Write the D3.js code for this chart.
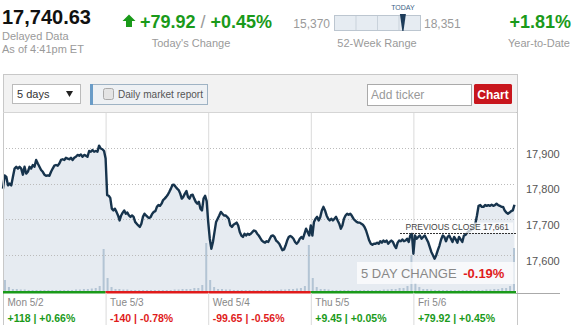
<!DOCTYPE html>
<html><head><meta charset="utf-8">
<script src="https://cdn.jsdelivr.net/npm/d3@7/dist/d3.min.js"></script>
<style>
html,body{margin:0;padding:0;background:#fff;}
svg{display:block;font-family:"Liberation Sans",Arial,sans-serif;}
</style></head>
<body><svg id="c" width="575" height="327"></svg>
<script>
// ---------- data ----------
const lastPrice = "17,740.63";
const todayChange = "+79.92";
const todayPct = "+0.45%";
const ytd = "+1.81%";
const rangeLow = 15370, rangeHigh = 18351, rangeNow = 17740.63;
const prevClose = 17661;
const fiveDayChange = "-0.19%";

const dayNames = ["Mon 5/2","Tue 5/3","Wed 5/4","Thu 5/5","Fri 5/6"];
const dayChange = ["+118","-140","-99.65","+9.45","+79.92"];
const dayPct = ["+0.66%","-0.78%","-0.56%","+0.05%","+0.45%"];
const dayUp = [true,false,false,true,true];
const yTicks = [17600,17700,17800,17900];

const mon = [17786,17823,17819,17795,17800,17795,17819,17842,17847,17842,17847,17842,17825,17847,17828,17833,17847,17842,17852,17847,17866,17856,17847,17838,17833,17825,17822,17823,17822,17833,17842,17850,17852,17850,17856,17866,17868,17866,17872,17870,17868,17872,17866,17872,17875,17880,17878,17881,17875,17880,17878,17875,17891,17889,17894,17889,17891,17889,17906,17898,17896,17891];
const tue = [17870,17768,17766,17760,17730,17725,17730,17721,17711,17697,17711,17719,17725,17716,17719,17711,17707,17711,17707,17693,17688,17683,17679,17688,17707,17716,17711,17707,17704,17707,17716,17721,17723,17735,17740,17738,17744,17754,17758,17763,17769,17777,17786,17796,17797,17791,17786,17782,17772,17758,17763,17772,17779,17763,17758,17768,17769,17758,17749,17744,17749,17730,17725,17758,17766,17751];
const wed = [17693,17646,17618,17637,17665,17693,17702,17711,17721,17716,17711,17711,17707,17702,17683,17679,17685,17688,17691,17683,17665,17655,17651,17660,17655,17660,17657,17660,17665,17669,17667,17660,17655,17648,17641,17637,17635,17639,17637,17646,17654,17655,17651,17641,17637,17632,17623,17614,17616,17627,17641,17651,17654,17651,17646,17637,17632,17637,17646,17651,17646,17660,17674,17665,17655];
const thu = [17683,17655,17693,17702,17707,17697,17707,17725,17735,17725,17711,17702,17697,17702,17697,17702,17707,17697,17688,17674,17683,17702,17711,17716,17713,17716,17710,17702,17697,17693,17691,17691,17688,17685,17679,17669,17655,17641,17632,17629,17632,17632,17635,17632,17639,17635,17641,17637,17641,17632,17637,17641,17637,17627,17620,17635,17641,17639,17644,17639,17641,17646,17637,17655,17661];
const fri = [17604,17655,17646,17651,17655,17646,17651,17655,17646,17637,17623,17609,17600,17590,17600,17614,17627,17644,17655,17651,17639,17651,17655,17646,17637,17651,17644,17635,17651,17644,17637,17655,17657,17663,17667,17669,17674,17679,17688,17711,17738,17740,17735,17735,17740,17738,17740,17738,17741,17738,17740,17744,17740,17738,17735,17735,17725,17719,17716,17719,17723,17725,17741];

const volMon = [11,4,2,2,1.5,1.5,1,1,1,1,1,1,1,1,1,1,1,1,1.5,1.5,2,2,2.5,3,5,42];
const volTue = [13,4,2,2,1.5,1.5,1,1,1,1,1,1,1,1,1,1,1,1.5,1.5,2,2,2,3,3,6,48];
const volWed = [11,4,2,2,1.5,1.5,1,1,1,1,1,1,1,1,1,1,1,1,1.5,1.5,2,2,2.5,3,5,46];
const volThu = [13,4,2,2,1.5,1,1,1,1,1,1,1,1,1,1,1,1,1,1.5,1.5,2,2,3,3,5,36];
const volFri = [8,4,2,2,1.5,1,1,1,1,1,1,1,1,1,1,1,1,1,1.5,1.5,2,2,3,3,5,43];

// ---------- build ----------
const days = [mon,tue,wed,thu,fri];
const vols = [volMon,volTue,volWed,volThu,volFri];
const pts = [];
days.forEach((arr,d)=>arr.forEach((v,i)=>pts.push({t:d+i/(arr.length-1)*0.985,v})));
const vpts = [];
vols.forEach((arr,d)=>arr.forEach((v,i)=>vpts.push({t:d+(i+0.5)/arr.length,v})));

const svg = d3.select("#c");
const GREEN="#1a9a1a", RED="#e01b1b", GREY="#9a9a9a";
const L=3, R=516, T=112, B=291;
const x = d3.scaleLinear().domain([0,5]).range([L,R]);
const y = d3.scaleLinear().domain([17500,18000]).range([B,T]);
const yv = d3.scaleLinear().domain([0,60]).range([B,B-60]);

// ---------- header ----------
svg.append("text").attr("x",2).attr("y",24).attr("font-size",20).attr("font-weight","bold").attr("fill","#111").text(lastPrice);
svg.append("text").attr("x",2).attr("y",40).attr("font-size",11).attr("fill",GREY).text("Delayed Data");
svg.append("text").attr("x",2).attr("y",53).attr("font-size",11).attr("fill",GREY).text("As of 4:41pm ET");

svg.append("path").attr("d","M129,14.5 L135.5,21 L132,21 L132,27 L126,27 L126,21 L122.5,21 Z").attr("fill",GREEN);
const tc = svg.append("text").attr("x",140).attr("y",28).attr("font-size",18).attr("font-weight","bold");
tc.append("tspan").attr("fill",GREEN).text(todayChange);
tc.append("tspan").attr("fill",GREY).attr("font-weight","normal").text(" / ");
tc.append("tspan").attr("fill",GREEN).text(todayPct);
svg.append("text").attr("x",191).attr("y",47).attr("text-anchor","middle").attr("font-size",11).attr("fill",GREY).text("Today's Change");

// 52 week range
const rx = d3.scaleLinear().domain([rangeLow,rangeHigh]).range([334.5,420.5]);
svg.append("rect").attr("x",334.5).attr("y",15.5).attr("width",86).attr("height",15).attr("fill","#e6ecf2").attr("stroke","#bcc6d0");
[0.25,0.5,0.75].forEach(f=>svg.append("line").attr("x1",334.5+86*f).attr("x2",334.5+86*f).attr("y1",16).attr("y2",30).attr("stroke","#c9d2db"));
const mx = rx(rangeNow);
svg.append("path").attr("d",`M${mx-3},14 L${mx+3},14 L${mx+0.6},31 L${mx-0.6},31 Z`).attr("fill","#1d3c5a");
svg.append("text").attr("x",mx).attr("y",10).attr("text-anchor","middle").attr("font-size",7).attr("fill","#3b5f86").text("TODAY");
svg.append("text").attr("x",330).attr("y",28).attr("text-anchor","end").attr("font-size",12).attr("fill",GREY).text(d3.format(",")(rangeLow));
svg.append("text").attr("x",424).attr("y",28).attr("font-size",12).attr("fill",GREY).text(d3.format(",")(rangeHigh));
svg.append("text").attr("x",377).attr("y",47).attr("text-anchor","middle").attr("font-size",11).attr("fill",GREY).text("52-Week Range");

svg.append("text").attr("x",571).attr("y",28).attr("text-anchor","end").attr("font-size",18).attr("font-weight","bold").attr("fill",GREEN).text(ytd);
svg.append("text").attr("x",570).attr("y",47).attr("text-anchor","end").attr("font-size",11).attr("fill",GREY).text("Year-to-Date");

// ---------- toolbar ----------
svg.append("rect").attr("x",3.5).attr("y",74.5).attr("width",514).attr("height",38).attr("fill","#f2f2f2").attr("stroke","#c8c8c8");
svg.append("rect").attr("x",12.5).attr("y",84.5).attr("width",68).attr("height",19).attr("fill","#fff").attr("stroke","#bbb");
svg.append("text").attr("x",17).attr("y",98).attr("font-size",11).attr("fill","#333").text("5 days");
svg.append("path").attr("d","M66,91 L73,91 L69.5,97 Z").attr("fill","#222");
svg.append("rect").attr("x",90.5).attr("y",84.5).attr("width",117).attr("height",20).attr("fill","#eef1f4").attr("stroke","#9fb3c4");
svg.append("rect").attr("x",90).attr("y",84).attr("width",3).attr("height",21).attr("fill","#6a9cc7");
svg.append("rect").attr("x",103.5).attr("y",88.5).attr("width",10).attr("height",11).attr("rx",2).attr("fill","#e4e4e4").attr("stroke","#aaa");
svg.append("text").attr("x",118).attr("y",98).attr("font-size",10.5).attr("textLength",85).attr("lengthAdjust","spacingAndGlyphs").attr("fill","#555").text("Daily market report");
svg.append("rect").attr("x",367.5).attr("y",84.5).attr("width",104).attr("height",21).attr("fill","#fff").attr("stroke","#aaa");
svg.append("text").attr("x",371).attr("y",99).attr("font-size",12).attr("fill","#999").text("Add ticker");
svg.append("rect").attr("x",474).attr("y",84).attr("width",38).attr("height",20).attr("rx",1.5).attr("fill","#c8161d");
svg.append("text").attr("x",493).attr("y",98.5).attr("text-anchor","middle").attr("font-size",12).attr("font-weight","bold").attr("fill","#fff").text("Chart");

// ---------- plot ----------
svg.append("rect").attr("x",L).attr("y",T).attr("width",R-L).attr("height",B-T+1).attr("fill","#fff");
// day dividers
d3.range(1,5).forEach(d=>svg.append("line").attr("x1",x(d)+0.5).attr("x2",x(d)+0.5).attr("y1",T).attr("y2",B).attr("stroke","#dadada"));
// area
svg.append("path").datum(pts).attr("fill","#e6ebf1")
  .attr("d",d3.area().x(d=>x(d.t)).y0(B).y1(d=>y(d.v)));
// volume
svg.append("g").selectAll("rect").data(vpts).join("rect")
  .attr("x",d=>x(d.t)-1).attr("width",2).attr("y",d=>yv(d.v)).attr("height",d=>B-yv(d.v))
  .attr("fill","#b3c4d4");
// grid
yTicks.forEach(t=>{
  svg.append("line").attr("x1",L).attr("x2",R).attr("y1",Math.round(y(t))+0.5).attr("y2",Math.round(y(t))+0.5)
    .attr("stroke","#bbb").attr("stroke-dasharray","1,2");
});
// line
svg.append("path").datum(pts).attr("fill","none").attr("stroke","#17344d").attr("stroke-width",2.4).attr("stroke-linejoin","round")
  .attr("d",d3.line().x(d=>x(d.t)).y(d=>y(d.v)));
// y axis
const ya = svg.append("g").attr("transform",`translate(${R},0)`)
  .call(d3.axisRight(y).tickValues(yTicks).tickSize(0).tickPadding(10).tickFormat(d3.format(",")));
ya.select(".domain").remove();
ya.selectAll("text").attr("font-size",11).attr("fill","#555").attr("font-family","Liberation Sans, Arial, sans-serif").attr("dy","0.85em");

// borders
svg.append("line").attr("x1",L+0.5).attr("x2",L+0.5).attr("y1",T).attr("y2",325).attr("stroke","#c8c8c8");
svg.append("line").attr("x1",R+1.5).attr("x2",R+1.5).attr("y1",T).attr("y2",325).attr("stroke","#c8c8c8");
svg.append("line").attr("x1",L).attr("x2",R).attr("y1",T+0.5).attr("y2",T+0.5).attr("stroke","#d5d5d5");
svg.append("line").attr("x1",R).attr("x2",560).attr("y1",B+2.5).attr("y2",B+2.5).attr("stroke","#aaa");

// previous close
const pcy = Math.round(y(prevClose))+0.5;
svg.append("rect").attr("x",398).attr("y",pcy-11).attr("width",115).attr("height",10.5).attr("fill","#fff").attr("opacity",0.75);
svg.append("line").attr("x1",400).attr("x2",R).attr("y1",pcy).attr("y2",pcy).attr("stroke","#333").attr("stroke-dasharray","2,1");
svg.append("text").attr("x",509).attr("y",pcy-3.5).attr("text-anchor","end").attr("font-size",8.5).attr("fill","#444").text("PREVIOUS CLOSE " + d3.format(",")(prevClose));

// 5 day change
svg.append("rect").attr("x",357).attr("y",262).attr("width",158).attr("height",22).attr("fill","#fff").attr("opacity",0.7);
const fd = svg.append("text").attr("x",361).attr("y",277.5).attr("font-size",13);
fd.append("tspan").attr("fill","#888").text("5 DAY CHANGE ");
fd.append("tspan").attr("fill",RED).attr("font-weight","bold").attr("dx",3).text(fiveDayChange);

// day color bars
dayUp.forEach((u,d)=>svg.append("rect").attr("x",x(d)).attr("y",B).attr("width",x(d+1)-x(d)).attr("height",2.5).attr("fill",u?GREEN:RED));

// day labels
dayNames.forEach((n,d)=>{
  if(d>0) svg.append("line").attr("x1",x(d)+0.5).attr("x2",x(d)+0.5).attr("y1",B+2).attr("y2",325).attr("stroke","#dadada");
  svg.append("text").attr("x",x(d)+4.5).attr("y",306).attr("font-size",10).attr("fill","#888").text(n);
  svg.append("text").attr("x",x(d)+4.5).attr("y",322).attr("font-size",10.5).attr("font-weight","bold")
    .attr("fill",dayUp[d]?GREEN:RED).text(dayChange[d]+" | "+dayPct[d]);
});
</script></body></html>
